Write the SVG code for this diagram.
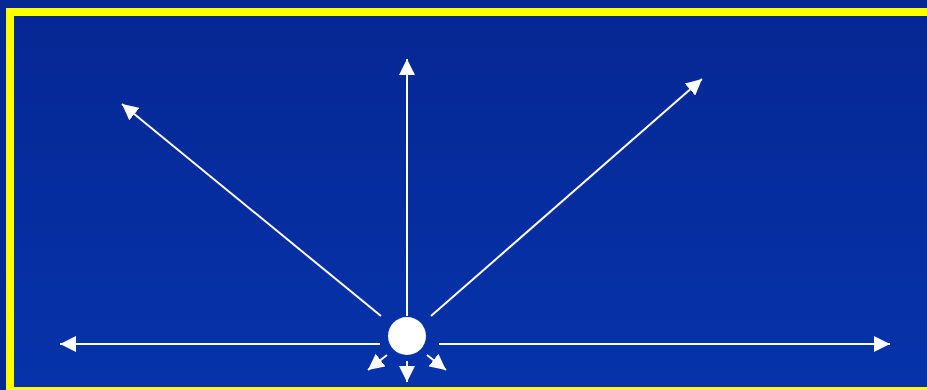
<svg xmlns="http://www.w3.org/2000/svg" width="927" height="390" viewBox="0 0 927 390">
  <style>
    .ray { stroke: #ffffff; stroke-width: 2; fill: none; marker-end: url(#ah); }
  </style>
  <defs>
    <linearGradient id="bg" x1="0" y1="0" x2="0" y2="1">
      <stop offset="0" stop-color="#052793"/>
      <stop offset="1" stop-color="#0633AB"/>
    </linearGradient>
    <marker id="ah" markerUnits="userSpaceOnUse" markerWidth="16" markerHeight="16" refX="16" refY="8" orient="auto" viewBox="0 0 16 16">
      <path d="M0,0 L16,8 L0,16 Z" fill="#ffffff"/>
    </marker>
  </defs>
  <rect x="0" y="0" width="927" height="390" fill="#052894"/>
  <rect x="10" y="12" width="930" height="379" fill="url(#bg)" stroke="#ffff00" stroke-width="8"/>
  <g id="connectors">
    <line class="ray" x1="407" y1="316" x2="407" y2="59"/>
    <line class="ray" x1="381" y1="316" x2="122" y2="104"/>
    <line class="ray" x1="431" y1="316" x2="702" y2="79"/>
    <line class="ray" x1="380" y1="344" x2="60" y2="344"/>
    <line class="ray" x1="439" y1="344" x2="890" y2="344"/>
    <line class="ray" x1="407" y1="361" x2="407" y2="382"/>
    <line class="ray" x1="387" y1="355" x2="368" y2="370"/>
    <line class="ray" x1="427" y1="355" x2="446" y2="370"/>
  </g>
  <g id="source">
    <circle cx="407" cy="336" r="19" fill="#ffffff"/>
  </g>
</svg>
